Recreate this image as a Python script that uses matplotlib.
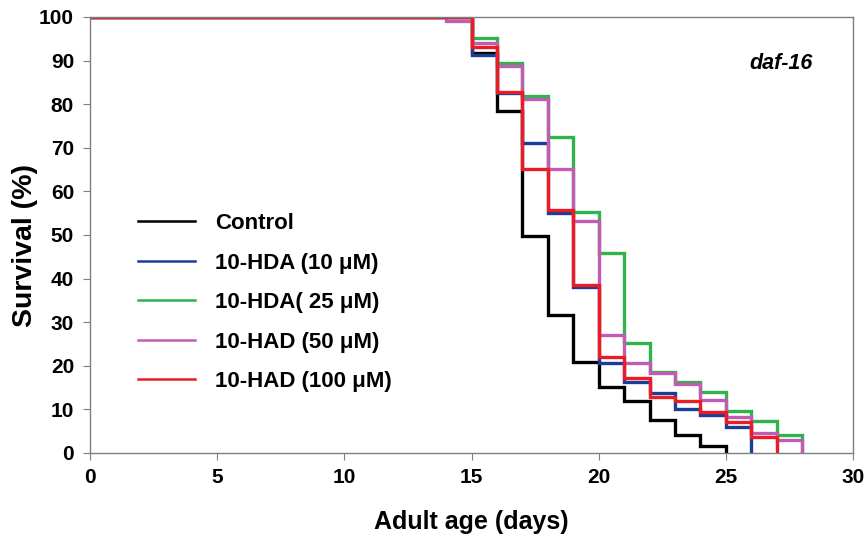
import matplotlib
matplotlib.use("Agg")
import matplotlib.pyplot as plt
from matplotlib.lines import Line2D

plt.rcParams['font.family'] = ['Liberation Sans', 'DejaVu Sans']

labels = ["Control", "10-HDA (10 μM)", "10-HDA( 25 μM)", "10-HAD (50 μM)", "10-HAD (100 μM)"]
colors = ["#000000", "#1c3d96", "#2fb34a", "#c25bb4", "#ec1c24"]

days_control = [0, 15, 16, 17, 18, 19, 20, 21, 22, 23, 24, 25]
surv_control = [100, 91.8, 78.4, 49.8, 31.7, 20.9, 15.2, 12.0, 7.6, 4.1, 1.6, 0]

days_hda10 = [0, 15, 16, 17, 18, 19, 20, 21, 22, 23, 24, 25, 26]
surv_hda10 = [100, 91.2, 82.5, 71.0, 55.1, 38.0, 20.6, 16.2, 13.7, 10.2, 8.7, 6.0, 0]

days_hda25 = [0, 15, 16, 17, 18, 19, 20, 21, 22, 23, 24, 25, 26, 27, 28]
surv_hda25 = [100, 95.1, 89.4, 81.8, 72.5, 55.3, 45.8, 25.2, 18.6, 16.2, 13.9, 9.7, 7.3, 4.1, 0]

days_had50 = [0, 14, 15, 16, 17, 18, 19, 20, 21, 22, 23, 24, 25, 26, 27, 28]
surv_had50 = [100, 99.1, 94.0, 88.8, 81.2, 65.1, 53.3, 27.1, 20.6, 18.4, 15.9, 12.2, 8.3, 4.7, 3.0, 0]

days_had100 = [0, 15, 16, 17, 18, 19, 20, 21, 22, 23, 24, 25, 26, 27]
surv_had100 = [100, 93.2, 82.9, 65.1, 55.7, 38.5, 22.1, 17.1, 12.9, 12.0, 9.5, 7.2, 3.7, 0]

series = [(days_control, surv_control), (days_hda10, surv_hda10), (days_hda25, surv_hda25),
          (days_had50, surv_had50), (days_had100, surv_had100)]

xticks = [0, 5, 10, 15, 20, 25, 30]
yticks = [0, 10, 20, 30, 40, 50, 60, 70, 80, 90, 100]

fig = plt.figure(figsize=(8.67, 5.39), dpi=100)
ax = fig.add_axes([90/867, 1-453/539, (853-90)/867, (453-17)/539])

for (d, s), c in zip(series, colors):
    ax.step(d, s, where='post', color=c, lw=2.4, solid_joinstyle='miter')

ax.set_xlim(0, 30)
ax.set_ylim(0, 100)
ax.set_xticks(xticks)
ax.set_yticks(yticks)
for sp in ax.spines.values():
    sp.set_color('#7f7f7f')
    sp.set_linewidth(1.0)
ax.tick_params(axis='both', direction='out', length=5, width=0.8, color='#7f7f7f',
               labelsize=15)
ax.tick_params(axis='x', pad=6)
ax.tick_params(axis='y', pad=6.5)
for lab in ax.get_xticklabels() + ax.get_yticklabels():
    lab.set_fontweight('bold')

ax.set_xlabel("Adult age (days)", fontsize=18, fontweight='bold', labelpad=16)
ax.set_ylabel("Survival (%)", fontsize=20.5, fontweight='bold')
ax.yaxis.set_label_coords(-0.068, 0.475)

ax.text(28.4, 89.4, "daf-16", fontsize=15.5, fontweight='bold', fontstyle='italic',
        ha='right', va='center')

handles = [Line2D([0], [0], color=c, lw=1.8) for c in colors]
ax.legend(handles, labels, loc='upper left', bbox_to_anchor=(0.063, 0.55),
          frameon=False, handlelength=2.57, handletextpad=0.9,
          labelspacing=0.83, borderpad=0, borderaxespad=0,
          prop={'weight': 'bold', 'size': 16})

fig.savefig("out.png", dpi=100)
